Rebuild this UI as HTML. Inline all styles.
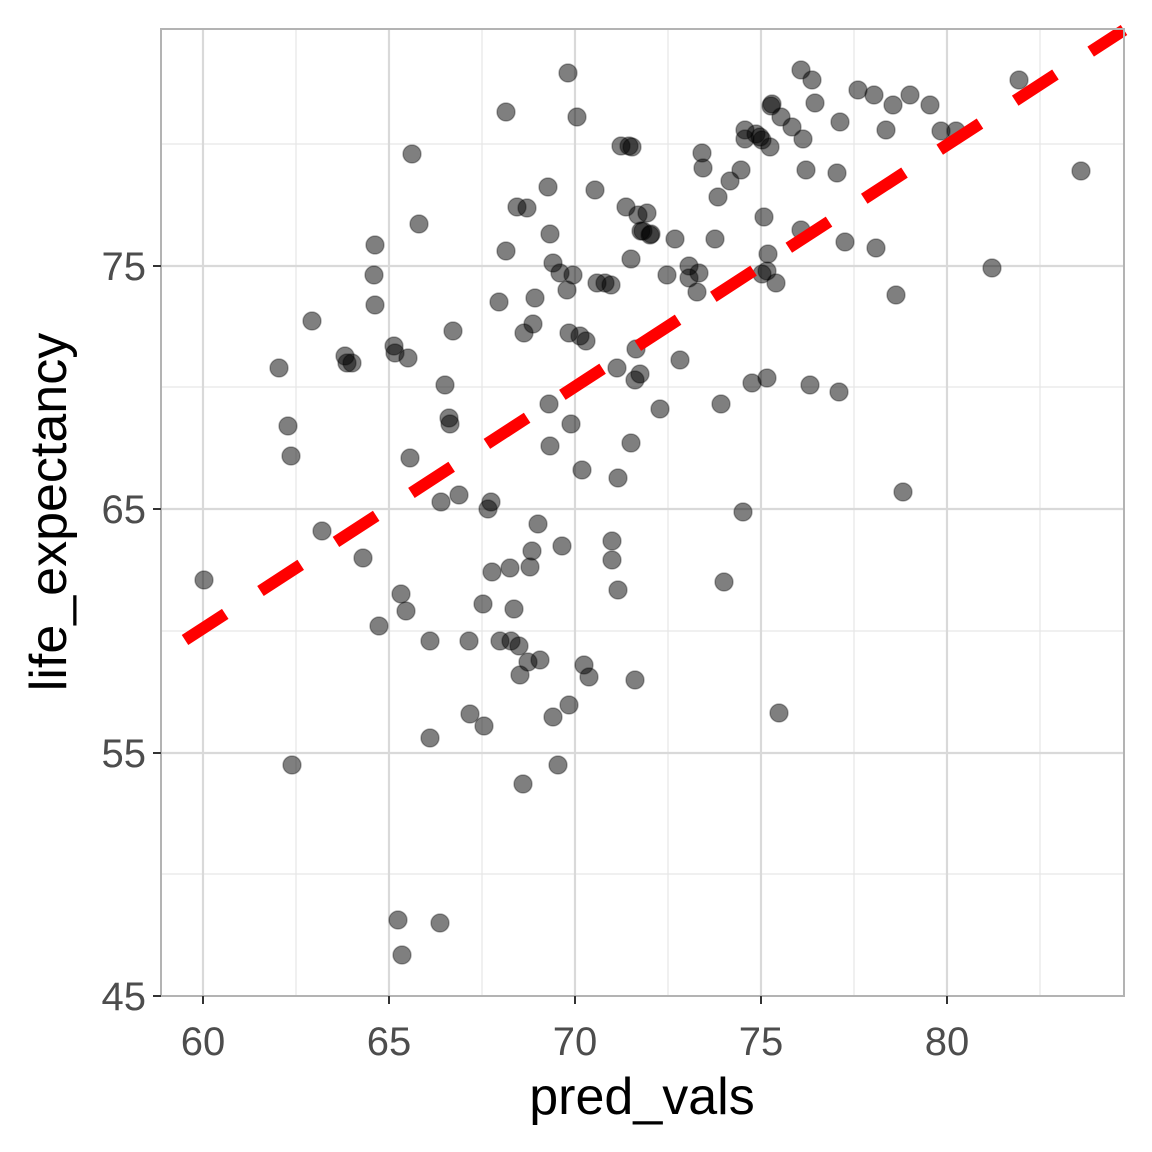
<!DOCTYPE html>
<html><head><style>body{margin:0;background:#fff}svg{display:block}</style></head><body>
<svg width="1152" height="1152" xmlns="http://www.w3.org/2000/svg" font-family="Liberation Sans, Arial, sans-serif">
<rect width="1152" height="1152" fill="#fff"/>
<g stroke="#e6e6e6" stroke-width="1.2">
<line x1="296" y1="29" x2="296" y2="996"/><line x1="482" y1="29" x2="482" y2="996"/><line x1="668" y1="29" x2="668" y2="996"/><line x1="854" y1="29" x2="854" y2="996"/><line x1="1040" y1="29" x2="1040" y2="996"/>
<line x1="161" y1="144" x2="1124" y2="144"/><line x1="161" y1="387" x2="1124" y2="387"/><line x1="161" y1="631" x2="1124" y2="631"/><line x1="161" y1="874" x2="1124" y2="874"/>
</g>
<g stroke="#d9d9d9" stroke-width="2.2">
<line x1="203" y1="29" x2="203" y2="996"/><line x1="389" y1="29" x2="389" y2="996"/><line x1="575" y1="29" x2="575" y2="996"/><line x1="761" y1="29" x2="761" y2="996"/><line x1="947" y1="29" x2="947" y2="996"/>
<line x1="161" y1="266" x2="1124" y2="266"/><line x1="161" y1="509" x2="1124" y2="509"/><line x1="161" y1="753" x2="1124" y2="753"/>
</g>
<g fill="#000" fill-opacity="0.5" stroke="#000" stroke-opacity="0.3" stroke-width="1.5">
<circle cx="204" cy="580" r="9"/><circle cx="279" cy="368" r="9"/><circle cx="288" cy="426" r="9"/><circle cx="291" cy="456" r="9"/><circle cx="292" cy="765" r="9"/><circle cx="312" cy="321" r="9"/><circle cx="322" cy="531" r="9"/><circle cx="345" cy="356" r="9"/><circle cx="347" cy="363" r="9"/><circle cx="352" cy="363" r="9"/><circle cx="363" cy="558" r="9"/><circle cx="375" cy="245" r="9"/><circle cx="374" cy="275" r="9"/><circle cx="375" cy="305" r="9"/><circle cx="379" cy="626" r="9"/><circle cx="394" cy="346" r="9"/><circle cx="395" cy="353" r="9"/><circle cx="398" cy="920" r="9"/><circle cx="401" cy="594" r="9"/><circle cx="402" cy="955" r="9"/><circle cx="406" cy="611" r="9"/><circle cx="408" cy="358" r="9"/><circle cx="410" cy="458" r="9"/><circle cx="412" cy="154" r="9"/><circle cx="419" cy="224" r="9"/><circle cx="430" cy="641" r="9"/><circle cx="430" cy="738" r="9"/><circle cx="440" cy="923" r="9"/><circle cx="441" cy="502" r="9"/><circle cx="445" cy="385" r="9"/><circle cx="449" cy="418" r="9"/><circle cx="450" cy="424" r="9"/><circle cx="453" cy="331" r="9"/><circle cx="459" cy="495" r="9"/><circle cx="469" cy="641" r="9"/><circle cx="470" cy="714" r="9"/><circle cx="483" cy="604" r="9"/><circle cx="484" cy="726" r="9"/><circle cx="488" cy="509" r="9"/><circle cx="491" cy="502" r="9"/><circle cx="492" cy="572" r="9"/><circle cx="499" cy="302" r="9"/><circle cx="500" cy="641" r="9"/><circle cx="506" cy="112" r="9"/><circle cx="506" cy="251" r="9"/><circle cx="510" cy="568" r="9"/><circle cx="511" cy="641" r="9"/><circle cx="514" cy="609" r="9"/><circle cx="517" cy="207" r="9"/><circle cx="519" cy="646" r="9"/><circle cx="520" cy="675" r="9"/><circle cx="523" cy="784" r="9"/><circle cx="524" cy="333" r="9"/><circle cx="527" cy="208" r="9"/><circle cx="528" cy="662" r="9"/><circle cx="530" cy="567" r="9"/><circle cx="532" cy="551" r="9"/><circle cx="533" cy="324" r="9"/><circle cx="535" cy="298" r="9"/><circle cx="538" cy="524" r="9"/><circle cx="540" cy="660" r="9"/><circle cx="548" cy="187" r="9"/><circle cx="549" cy="404" r="9"/><circle cx="550" cy="234" r="9"/><circle cx="550" cy="446" r="9"/><circle cx="553" cy="263" r="9"/><circle cx="553" cy="717" r="9"/><circle cx="558" cy="765" r="9"/><circle cx="560" cy="273" r="9"/><circle cx="562" cy="546" r="9"/><circle cx="567" cy="290" r="9"/><circle cx="568" cy="73" r="9"/><circle cx="569" cy="333" r="9"/><circle cx="569" cy="705" r="9"/><circle cx="571" cy="424" r="9"/><circle cx="573" cy="275" r="9"/><circle cx="577" cy="117" r="9"/><circle cx="580" cy="336" r="9"/><circle cx="582" cy="470" r="9"/><circle cx="584" cy="665" r="9"/><circle cx="586" cy="341" r="9"/><circle cx="589" cy="677" r="9"/><circle cx="595" cy="190" r="9"/><circle cx="597" cy="283" r="9"/><circle cx="605" cy="283" r="9"/><circle cx="611" cy="285" r="9"/><circle cx="612" cy="541" r="9"/><circle cx="612" cy="560" r="9"/><circle cx="617" cy="368" r="9"/><circle cx="618" cy="478" r="9"/><circle cx="618" cy="590" r="9"/><circle cx="621" cy="146" r="9"/><circle cx="626" cy="207" r="9"/><circle cx="629" cy="146" r="9"/><circle cx="631" cy="443" r="9"/><circle cx="631" cy="259" r="9"/><circle cx="632" cy="147" r="9"/><circle cx="635" cy="680" r="9"/><circle cx="635" cy="380" r="9"/><circle cx="636" cy="349" r="9"/><circle cx="638" cy="215" r="9"/><circle cx="640" cy="374" r="9"/><circle cx="641" cy="231" r="9"/><circle cx="643" cy="231" r="9"/><circle cx="647" cy="213" r="9"/><circle cx="650" cy="235" r="9"/><circle cx="651" cy="234" r="9"/><circle cx="660" cy="409" r="9"/><circle cx="667" cy="275" r="9"/><circle cx="675" cy="239" r="9"/><circle cx="680" cy="360" r="9"/><circle cx="689" cy="266" r="9"/><circle cx="689" cy="278" r="9"/><circle cx="699" cy="273" r="9"/><circle cx="697" cy="292" r="9"/><circle cx="702" cy="153" r="9"/><circle cx="703" cy="168" r="9"/><circle cx="715" cy="239" r="9"/><circle cx="718" cy="197" r="9"/><circle cx="721" cy="404" r="9"/><circle cx="724" cy="582" r="9"/><circle cx="730" cy="181" r="9"/><circle cx="741" cy="170" r="9"/><circle cx="743" cy="512" r="9"/><circle cx="745" cy="130" r="9"/><circle cx="745" cy="139" r="9"/><circle cx="752" cy="383" r="9"/><circle cx="756" cy="134" r="9"/><circle cx="760" cy="137" r="9"/><circle cx="762" cy="140" r="9"/><circle cx="764" cy="217" r="9"/><circle cx="762" cy="274" r="9"/><circle cx="767" cy="378" r="9"/><circle cx="767" cy="271" r="9"/><circle cx="768" cy="254" r="9"/><circle cx="770" cy="147" r="9"/><circle cx="771" cy="106" r="9"/><circle cx="772" cy="104" r="9"/><circle cx="776" cy="283" r="9"/><circle cx="779" cy="713" r="9"/><circle cx="781" cy="117" r="9"/><circle cx="792" cy="127" r="9"/><circle cx="801" cy="70" r="9"/><circle cx="803" cy="139" r="9"/><circle cx="801" cy="230" r="9"/><circle cx="806" cy="170" r="9"/><circle cx="810" cy="385" r="9"/><circle cx="812" cy="80" r="9"/><circle cx="815" cy="103" r="9"/><circle cx="840" cy="122" r="9"/><circle cx="837" cy="173" r="9"/><circle cx="839" cy="392" r="9"/><circle cx="845" cy="242" r="9"/><circle cx="858" cy="90" r="9"/><circle cx="874" cy="95" r="9"/><circle cx="876" cy="248" r="9"/><circle cx="886" cy="130" r="9"/><circle cx="893" cy="105" r="9"/><circle cx="896" cy="295" r="9"/><circle cx="903" cy="492" r="9"/><circle cx="910" cy="95" r="9"/><circle cx="930" cy="105" r="9"/><circle cx="941" cy="131" r="9"/><circle cx="956" cy="131" r="9"/><circle cx="1019" cy="80" r="9"/><circle cx="1081" cy="171" r="9"/><circle cx="992" cy="268" r="9"/>
</g>
<line x1="185" y1="640" x2="1124" y2="30" stroke="#ff0000" stroke-width="12" stroke-dasharray="48,42"/>
<rect x="161" y="29" width="963" height="967" fill="none" stroke="#b3b3b3" stroke-width="2"/>
<g stroke="#333" stroke-width="2">
<line x1="203" y1="996" x2="203" y2="1004"/><line x1="389" y1="996" x2="389" y2="1004"/><line x1="575" y1="996" x2="575" y2="1004"/><line x1="761" y1="996" x2="761" y2="1004"/><line x1="947" y1="996" x2="947" y2="1004"/>
<line x1="153" y1="266" x2="161" y2="266"/><line x1="153" y1="509" x2="161" y2="509"/><line x1="153" y1="753" x2="161" y2="753"/><line x1="153" y1="996" x2="161" y2="996"/>
</g>
<g fill="#4d4d4d" font-size="40">
<g text-anchor="middle"><text x="203" y="1055">60</text><text x="389" y="1055">65</text><text x="575" y="1055">70</text><text x="761" y="1055">75</text><text x="947" y="1055">80</text></g>
<g text-anchor="end"><text x="146" y="280">75</text><text x="146" y="523">65</text><text x="146" y="767">55</text><text x="146" y="1010">45</text></g>
</g>
<text x="642" y="1114" text-anchor="middle" font-size="52" fill="#000">pred_vals</text>
<text transform="translate(66,512) rotate(-90)" text-anchor="middle" font-size="52" fill="#000">life_expectancy</text>
</svg>
</body></html>
